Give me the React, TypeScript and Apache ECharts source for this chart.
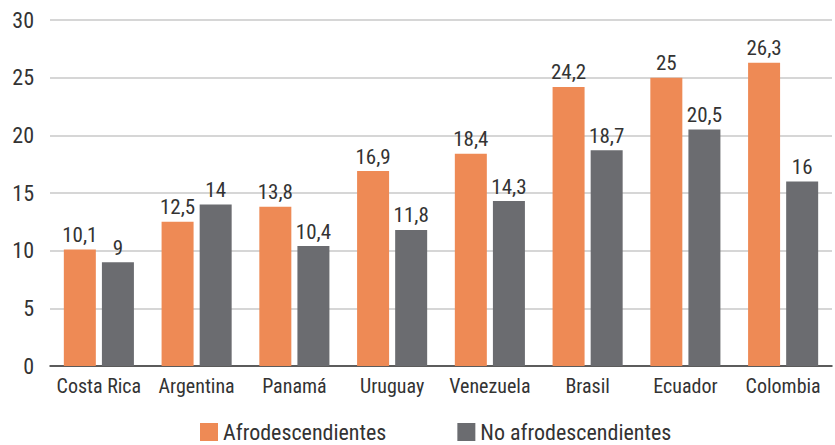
import React, { useEffect, useRef } from "react";
import * as echarts from "echarts";

const categories = ["Costa Rica", "Argentina", "Panamá", "Uruguay", "Venezuela", "Brasil", "Ecuador", "Colombia"];
const afro = [10.1, 12.5, 13.8, 16.9, 18.4, 24.2, 25, 26.3];
const noAfro = [9, 14, 10.4, 11.8, 14.3, 18.7, 20.5, 16];
const seriesNames = ["Afrodescendientes", "No afrodescendientes"];

const FONT = "'Liberation Sans Narrow', 'Roboto Condensed', 'Arial Narrow', Roboto, sans-serif";
const fmt = (v: number) => String(v).replace(".", ",");

export default function App() {
  const ref = useRef<HTMLDivElement>(null);
  useEffect(() => {
    if (!ref.current) return;
    const chart = echarts.init(ref.current, undefined, { renderer: "svg" });
    const label = {
      show: true,
      position: "top" as const,
      distance: 4,
      color: "#333",
      fontSize: 21,
      fontFamily: FONT,
      formatter: (p: any) => fmt(p.value),
    };
    chart.setOption({
      animation: false,
      textStyle: { fontFamily: FONT },
      grid: { left: 50, right: 3, top: 20, bottom: 79, containLabel: false },
      legend: {
        bottom: -3,
        left: 195,
        itemWidth: 18,
        itemHeight: 18,
        itemGap: 71,
        icon: "rect",
        textStyle: { fontSize: 22, color: "#333", fontFamily: FONT },
        data: seriesNames,
      },
      xAxis: {
        type: "category",
        data: categories,
        axisLine: { lineStyle: { color: "#333", width: 1.5 } },
        axisTick: { show: false },
        axisLabel: { fontSize: 20, color: "#333", margin: 10, interval: 0, fontFamily: FONT },
      },
      yAxis: {
        type: "value",
        min: 0,
        max: 30,
        interval: 5,
        axisLine: { show: false },
        axisTick: { show: false },
        splitLine: { lineStyle: { color: "#c8c8c8", width: 1.5 } },
        axisLabel: { fontSize: 22, color: "#333", margin: 16, fontFamily: FONT },
      },
      series: [
        {
          name: seriesNames[0],
          type: "bar",
          data: afro,
          barWidth: 32,
          barGap: "19%",
          itemStyle: { color: "#EE8A55" },
          label,
        },
        {
          name: seriesNames[1],
          type: "bar",
          data: noAfro,
          barWidth: 32,
          itemStyle: { color: "#6B6C70" },
          label,
        },
      ],
    });
    return () => chart.dispose();
  }, []);
  return <div ref={ref} style={{ width: 835, height: 445, position: "absolute", left: 0, top: 0 }} />;
}
